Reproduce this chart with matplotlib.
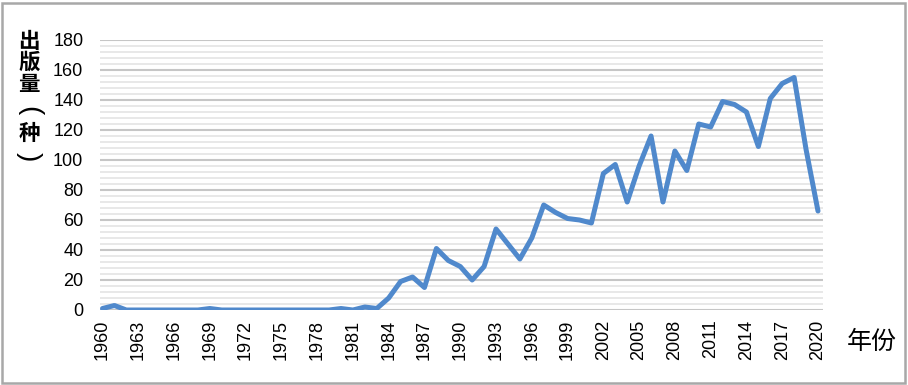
import matplotlib
matplotlib.use("Agg")
import matplotlib.pyplot as plt
from matplotlib.patches import Rectangle
from matplotlib.ticker import MultipleLocator

# ── Data ─────────────────────────────────────────────────────────────────────
years = list(range(1960, 2021))
counts = [
    1, 3, 0, 0, 0, 0, 0, 0, 0, 1,          # 1960-1969
    0, 0, 0, 0, 0, 0, 0, 0, 0, 0,          # 1970-1979
    1, 0, 2, 1, 8, 19, 22, 15, 41, 33,     # 1980-1989
    29, 20, 29, 54, 44, 34, 48, 70, 65, 61,  # 1990-1999
    60, 58, 91, 97, 72, 96, 116, 72, 106, 93,  # 2000-2009
    124, 122, 139, 137, 132, 109, 141, 151, 155, 107,  # 2010-2019
    66,                                    # 2020
]
x_ticks = list(range(1960, 2021, 3))
y_label = "出版量(种)"
x_label = "年份"

LINE_C = "#5089cc"
CJK = ["Noto Sans CJK SC", "DejaVu Sans"]

fig = plt.figure(figsize=(9.08, 3.85), dpi=100)
ax = fig.add_axes([100 / 908, 1 - 310 / 385, 723 / 908, 270 / 385])

ax.plot(years, counts, color=LINE_C, linewidth=3.6, solid_joinstyle="round",
        solid_capstyle="round", zorder=3)

ax.set_xlim(1959.79, 2020.42)
ax.set_ylim(0, 180)
ax.yaxis.set_major_locator(MultipleLocator(20))
ax.yaxis.set_minor_locator(MultipleLocator(4))
ax.set_xticks(x_ticks)
ax.set_xticklabels([str(y) for y in x_ticks], rotation=90,
                   fontfamily="Liberation Sans", fontsize=13)
for lbl in ax.get_yticklabels():
    lbl.set_fontfamily("Liberation Sans")
    lbl.set_fontsize(13)

ax.grid(axis="y", which="major", color="#c6c6c6", linewidth=1.5, zorder=1)
ax.grid(axis="y", which="minor", color="#e4e4e4", linewidth=1.2, zorder=1)
ax.tick_params(axis="both", which="both", length=0)
ax.tick_params(axis="y", pad=12)
ax.tick_params(axis="x", pad=7)
for s in ax.spines.values():
    s.set_visible(False)

# vertical y-axis title: one glyph per line, brackets turned sideways
char_y = [41, 62.5, 84, 111, 133, 157]
for ch, py in zip(y_label, char_y):
    if ch in "()":
        fig.text(29 / 908, 1 - py / 385, ch, family="Liberation Sans",
                 fontsize=20, ha="center", va="center", rotation=-90)
    else:
        fig.text(29 / 908, 1 - py / 385, ch, family=CJK, fontsize=15.5,
                 fontweight="bold", ha="center", va="center")
fig.text(872 / 908, 1 - 342 / 385, x_label, family=CJK, fontsize=18,
         ha="center", va="center")

# outer grey frame
fig.patches.append(Rectangle((2 / 908, 2 / 385), 903 / 908, 380 / 385,
                             transform=fig.transFigure, fill=False,
                             edgecolor="#a8a8a8", linewidth=1.8))

fig.savefig("out.png", dpi=100)
